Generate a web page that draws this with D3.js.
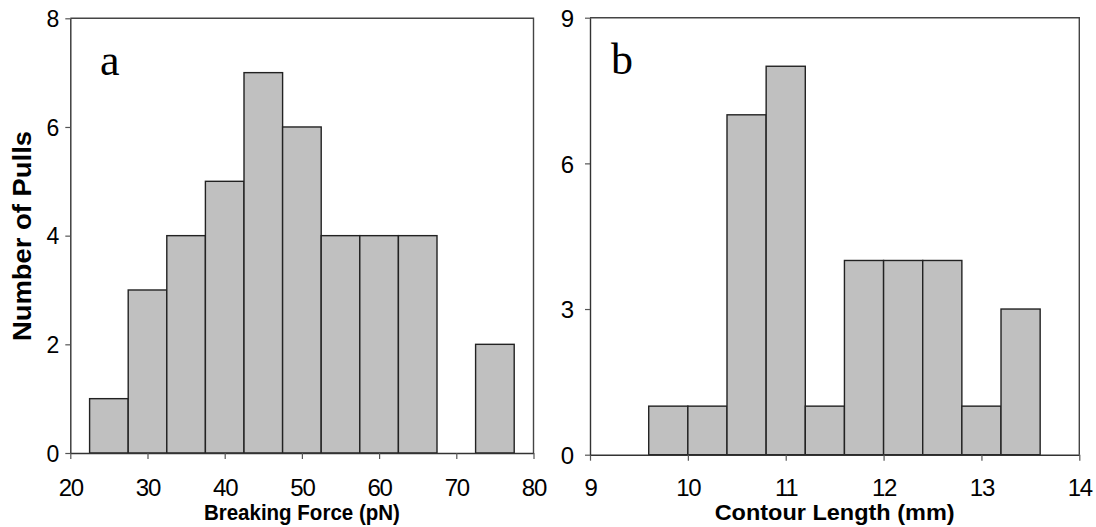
<!DOCTYPE html>
<html>
<head>
<meta charset="utf-8">
<script src="https://cdn.jsdelivr.net/npm/d3@7"></script>
<style>
  html, body { margin: 0; padding: 0; background: #fff; }
  svg { display: block; }
  text { font-family: "Liberation Sans", Arial, sans-serif; fill: #000; }
</style>
</head>
<body>
<svg id="chart" width="1096" height="527"></svg>
<script>
// Panel a: breaking force histogram (bin edges in pN, counts per bin)
const forceEdges = [20, 22.5, 27.5, 32.5, 37.5, 42.5, 47.5, 52.5, 57.5, 62.5, 67.5, 72.5, 77.5, 80];
const forceCounts = [0, 1, 3, 4, 5, 7, 6, 4, 4, 4, 0, 2, 0];
const forceTicks = [20, 30, 40, 50, 60, 70, 80];
const forceCountTicks = [0, 2, 4, 6, 8];

// Panel b: contour length histogram (bin edges in mm, counts per bin)
const lengthEdges = [9, 9.6, 10.0, 10.4, 10.8, 11.2, 11.6, 12.0, 12.4, 12.8, 13.2, 13.6, 14];
const lengthCounts = [0, 1, 1, 7, 8, 1, 4, 4, 4, 1, 3, 0];
const lengthTicks = [9, 10, 11, 12, 13, 14];
const lengthCountTicks = [0, 3, 6, 9];

const svg = d3.select("#chart");

function panel(cfg) {
  const x = d3.scaleLinear().domain(cfg.xDomain).range([cfg.left, cfg.right]);
  const y = d3.scaleLinear().domain(cfg.yDomain).range([cfg.bottom, cfg.top]);
  const g = svg.append("g");

  const bins = cfg.counts.map((c, i) => ({ x0: cfg.edges[i], x1: cfg.edges[i + 1], n: c }));

  // bars (empty bins collapse to a line on the baseline)
  g.append("g").selectAll("rect").data(bins).join("rect")
    .attr("x", d => x(d.x0))
    .attr("width", d => x(d.x1) - x(d.x0))
    .attr("y", d => y(d.n))
    .attr("height", d => y(0) - y(d.n))
    .attr("fill", "#c0c0c0")
    .attr("stroke", "#222")
    .attr("stroke-width", 1.4);

  // frame: top and right edges
  g.append("path")
    .attr("d", `M${cfg.left},${cfg.top}H${cfg.right}V${cfg.bottom}`)
    .attr("fill", "none").attr("stroke", "#444").attr("stroke-width", 1.4);

  // x axis
  const xa = g.append("g").attr("transform", `translate(0,${cfg.bottom})`)
    .call(d3.axisBottom(x).tickValues(cfg.xTicks).tickSize(6).tickSizeOuter(0).tickFormat(d3.format("d")));
  xa.select(".domain").attr("stroke", "#333").attr("stroke-width", 1.4);
  xa.selectAll(".tick line").attr("stroke", "#555").attr("stroke-width", 1.2);
  xa.selectAll(".tick text")
    .attr("y", cfg.xLabelY).attr("dy", null)
    .style("font-size", cfg.xTickSize + "px")
    .style("letter-spacing", "-1.2px");

  // y axis
  const ya = g.append("g").attr("transform", `translate(${cfg.left},0)`)
    .call(d3.axisLeft(y).tickValues(cfg.yTicks).tickSize(5).tickSizeOuter(0).tickPadding(cfg.yPad).tickFormat(d3.format("d")));
  ya.select(".domain").attr("stroke", "#333").attr("stroke-width", 1.4);
  ya.selectAll(".tick line").attr("stroke", "#555").attr("stroke-width", 1.2);
  ya.selectAll(".tick text").style("font-size", cfg.yTickSize + "px").attr("dy", "0.36em");

  // axis title
  g.append("text")
    .attr("x", (cfg.left + cfg.right) / 2)
    .attr("y", cfg.titleY)
    .attr("text-anchor", "middle")
    .attr("textLength", cfg.titleLen)
    .attr("lengthAdjust", "spacingAndGlyphs")
    .style("font-size", "22px")
    .style("font-weight", "bold")
    .text(cfg.title);

  // panel letter
  g.append("text")
    .attr("x", cfg.letterX)
    .attr("y", cfg.letterY)
    .style("font-family", "'Liberation Serif', 'Times New Roman', serif")
    .style("font-size", "44px")
    .text(cfg.letter);
}

panel({
  edges: forceEdges, counts: forceCounts,
  xDomain: [20, 80], yDomain: [0, 8],
  xTicks: forceTicks, yTicks: forceCountTicks,
  left: 70.3, right: 533.5, top: 18.3, bottom: 453,
  xLabelY: 43, xTickSize: 24, yTickSize: 23, yPad: 6,
  title: "Breaking Force (pN)", titleY: 520, titleLen: 196,
  letter: "a", letterX: 100, letterY: 75
});

panel({
  edges: lengthEdges, counts: lengthCounts,
  xDomain: [9, 14], yDomain: [0, 9],
  xTicks: lengthTicks, yTicks: lengthCountTicks,
  left: 590, right: 1079.3, top: 17.7, bottom: 454.7,
  xLabelY: 41.5, xTickSize: 24, yTickSize: 24, yPad: 11,
  title: "Contour Length (mm)", titleY: 520, titleLen: 240,
  letter: "b", letterX: 611, letterY: 74
});

// shared y-axis title
svg.append("text")
  .attr("transform", "translate(31,236) rotate(-90)")
  .attr("text-anchor", "middle")
  .attr("textLength", 210)
  .attr("lengthAdjust", "spacingAndGlyphs")
  .style("font-size", "26px")
  .style("font-weight", "bold")
  .text("Number of Pulls");
</script>
</body>
</html>
